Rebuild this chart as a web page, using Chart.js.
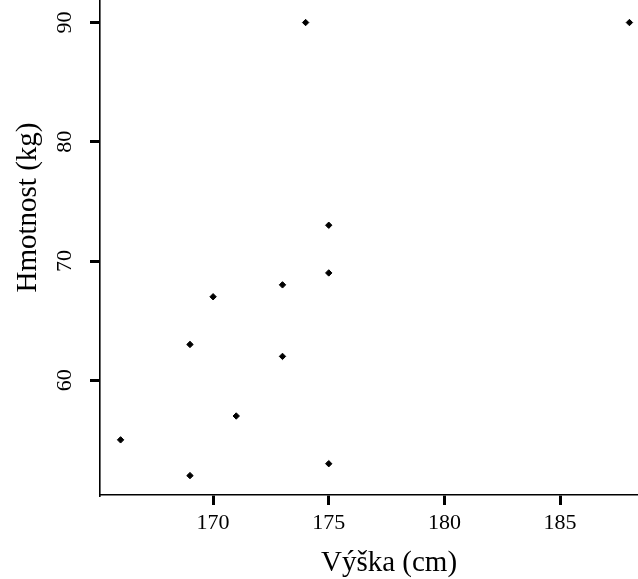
<!DOCTYPE html>
<html>
<head>
<meta charset="utf-8">
<script src="https://cdn.jsdelivr.net/npm/chart.js@4.4.1/dist/chart.umd.min.js"></script>
<style>
  html, body { margin: 0; padding: 0; background: #fff; overflow: hidden; }
  #wrap { position: relative; width: 638px; height: 579px; overflow: hidden; }
  #chart { position: absolute; left: 0; top: -80px; }
</style>
</head>
<body>
<div id="wrap">
  <canvas id="chart" width="678" height="662"></canvas>
</div>
<script>
// vyska (cm) a hmotnost (kg) jednotlivych osob
const vyska = [166, 169, 169, 170, 171, 173, 173, 174, 175, 175, 175, 188];
const hmotnost = [55, 63, 52, 67, 57, 68, 62, 90, 73, 69, 53, 90];
const xTicks = [170, 175, 180, 185];
const yTicks = [60, 70, 80, 90];

const serif = "'Liberation Serif', 'Times New Roman', serif";
const points = vyska.map((v, i) => ({ x: v, y: hmotnost[i] }));

// no extra room for the first/last tick label, the plot area is fixed
function noPad(s) {
  s.paddingTop = 0;
  s.paddingBottom = 0;
  s.paddingLeft = 0;
  s.paddingRight = 0;
}

const ctx = document.getElementById("chart").getContext("2d");
new Chart(ctx, {
  type: "scatter",
  data: {
    datasets: [
      {
        data: points,
        pointStyle: "rectRot",
        pointRadius: 3.2,
        pointBackgroundColor: "#000",
        pointBorderColor: "#000",
        pointBorderWidth: 1,
      },
    ],
  },
  options: {
    responsive: false,
    animation: false,
    layout: { padding: 0, autoPadding: false },
    plugins: {
      legend: { display: false },
      tooltip: { enabled: false },
    },
    scales: {
      x: {
        type: "linear",
        min: 165.11,
        max: 190.1,
        afterBuildTicks: (s) => { s.ticks = xTicks.map((v) => ({ value: v })); },
        afterFit: (s) => { s.height = 87; noPad(s); },
        grid: { display: true, drawOnChartArea: false, drawTicks: true, tickLength: 10, color: "#000", tickColor: "#000", tickWidth: 3, lineWidth: 3 },
        border: { display: true, color: "#000", width: 1.6 },
        ticks: { color: "#000", font: { family: serif, size: 22 }, padding: 5, maxRotation: 0, autoSkip: false },
        title: {
          display: true,
          text: "Výška (cm)",
          color: "#000",
          font: { family: serif, size: 29 },
          padding: { top: 0, bottom: 1 },
        },
      },
      y: {
        type: "linear",
        min: 50.375,
        max: 98.6,
        afterBuildTicks: (s) => { s.ticks = yTicks.map((v) => ({ value: v })); },
        afterFit: (s) => { s.width = 100; noPad(s); },
        grid: { display: true, drawOnChartArea: false, drawTicks: true, tickLength: 10, color: "#000", tickColor: "#000", tickWidth: 3, lineWidth: 3 },
        border: { display: true, color: "#000", width: 1.6 },
        ticks: {
          color: "#000",
          font: { family: serif, size: 22 },
          minRotation: 90,
          maxRotation: 90,
          crossAlign: "center",
          padding: 14,
          autoSkip: false,
        },
        title: {
          display: true,
          text: "Hmotnost (kg)",
          color: "#000",
          font: { family: serif, size: 29 },
          padding: { top: 11, bottom: 0 },
        },
      },
    },
  },
});
</script>
</body>
</html>
